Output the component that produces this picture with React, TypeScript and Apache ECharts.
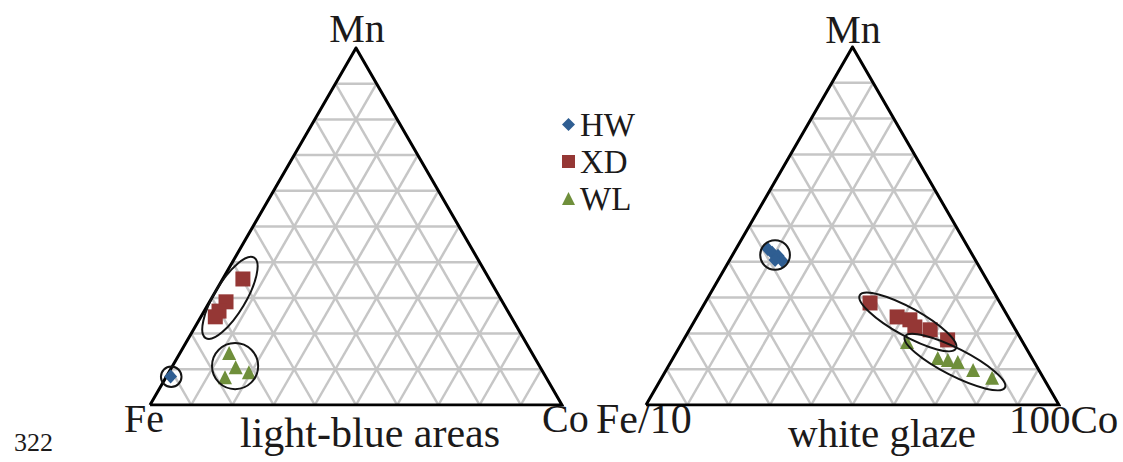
import { useEffect, useRef } from "react";
import * as echarts from "echarts";

// Compositions as [Fe, Mn, Co] in percent
const seriesNames = ["HW", "XD", "WL"];
const leftHW = [[91, 8, 1]];
const leftXD = [
  [59.8, 35.3, 4.9],
  [67.1, 28.9, 4.0],
  [70.1, 26.3, 3.6],
  [71.8, 24.7, 3.5],
];
const leftWL = [
  [73.5, 14.6, 11.9],
  [73.9, 10.6, 15.5],
  [71.4, 9.2, 19.4],
  [77.9, 7.8, 14.3],
];
const rightHW = [
  [48.7, 43.6, 7.7],
  [48.2, 42.5, 9.3],
  [47.2, 41.7, 11.1],
  [46.9, 40.3, 12.8],
  [48.5, 40.5, 11.0],
];
const rightXD = [
  [31.5, 28.5, 40.0],
  [26.9, 24.6, 48.5],
  [24.2, 23.8, 52.0],
  [24.0, 21.8, 54.2],
  [20.7, 21.0, 58.3],
  [17.9, 18.2, 64.0],
];
const rightWL = [
  [28.0, 17.6, 54.4],
  [22.8, 13.1, 64.1],
  [20.6, 12.6, 66.8],
  [18.5, 12.0, 69.5],
  [15.9, 9.8, 74.3],
  [12.4, 7.6, 80.0],
];
// group outlines: centre [Fe, Mn, Co]
const leftGroupCentres = [
  [90.9, 7.9, 1.2],
  [65.6, 30.0, 4.4],
  [73.9, 10.9, 15.2],
];
const rightGroupCentres = [
  [47.8, 41.9, 10.3],
  [25.0, 23.2, 51.8],
  [19.2, 12.0, 68.8],
];
const leftVertexLabels = ["Fe", "Mn", "Co"];
const rightVertexLabels = ["Fe/10", "Mn", "100Co"];
const leftTitle = "light-blue areas";
const rightTitle = "white glaze";
const pageNumber = "322";

const S3 = Math.sqrt(3) / 2;
const YMAX = 100 * S3;
function toXY(p: number[]): number[] {
  const [fe, mn, co] = p;
  const s = fe + mn + co;
  return [((co + mn / 2) / s) * 100, ((mn * S3) / s) * 100];
}

function gridSegments(): number[][] {
  const segs: number[][] = [];
  for (let i = 10; i < 100; i += 10) {
    const a = i;
    const b = 100 - i;
    segs.push([...toXY([b, a, 0]), ...toXY([0, a, b])]);
    segs.push([...toXY([b, 0, a]), ...toXY([0, b, a])]);
    segs.push([...toXY([a, b, 0]), ...toXY([a, 0, b])]);
  }
  return segs;
}

const COLORS: Record<string, string> = {
  HW: "#2f5e92",
  XD: "#953735",
  WL: "#6f8f3b",
};
const SYMBOLS: Record<string, string> = {
  HW: "diamond",
  XD: "rect",
  WL: "triangle",
};
const SIZES: Record<string, number[]> = {
  HW: [13, 14],
  XD: [15, 15],
  WL: [14, 14],
};

// outline geometry (radii in % of side, angle in degrees)
const leftOutlineShape = [
  [2.5, 2.5, 0],
  [11.4, 3.8, 59],
  [5.6, 5.6, 0],
];
const rightOutlineShape = [
  [3.6, 3.6, 0],
  [13.3, 3.4, -29],
  [13.6, 3.3, -27],
];

const FONT = "'Liberation Serif', 'Times New Roman', serif";
const TEXT = "#1c1a1a";

export default function App() {
  const ref = useRef<HTMLDivElement>(null);
  useEffect(() => {
    if (!ref.current) return;
    const chart = echarts.init(ref.current, undefined, { renderer: "svg" });
    const segs = gridSegments();
    const grids = [
      { left: 150, top: 48, width: 412, height: 357 },
      { left: 646, top: 47, width: 413, height: 358 },
    ];
    const panels = [
      { hw: leftHW, xd: leftXD, wl: leftWL, centres: leftGroupCentres, shapes: leftOutlineShape },
      { hw: rightHW, xd: rightXD, wl: rightWL, centres: rightGroupCentres, shapes: rightOutlineShape },
    ];
    const series: any[] = [];
    panels.forEach((p, gi) => {
      series.push({
        type: "custom",
        xAxisIndex: gi,
        yAxisIndex: gi,
        silent: true,
        clip: false,
        z: 1,
        data: segs,
        renderItem: (params: any, api: any) => {
          const p1 = api.coord([api.value(0), api.value(1)]);
          const p2 = api.coord([api.value(2), api.value(3)]);
          return {
            type: "line",
            shape: { x1: p1[0], y1: p1[1], x2: p2[0], y2: p2[1] },
            style: { stroke: "#c6c6c6", lineWidth: 2.5 },
          };
        },
      });
      series.push({
        type: "line",
        xAxisIndex: gi,
        yAxisIndex: gi,
        silent: true,
        symbol: "none",
        z: 3,
        lineStyle: { color: "#000", width: 3, join: "miter" },
        data: [toXY([100, 0, 0]), toXY([0, 100, 0]), toXY([0, 0, 100]), toXY([100, 0, 0])],
      });
      const groups: Record<string, number[][]> = { HW: p.hw, XD: p.xd, WL: p.wl };
      seriesNames.forEach((name) => {
        series.push({
          type: "scatter",
          name,
          xAxisIndex: gi,
          yAxisIndex: gi,
          symbol: SYMBOLS[name],
          symbolSize: SIZES[name],
          itemStyle: { color: COLORS[name], opacity: 1 },
          z: 5,
          data: groups[name].map(toXY),
        });
      });
      series.push({
        type: "custom",
        xAxisIndex: gi,
        yAxisIndex: gi,
        silent: true,
        clip: false,
        z: 6,
        data: p.centres.map((c, i) => [...toXY(c), ...p.shapes[i]]),
        renderItem: (params: any, api: any) => {
          const c = api.coord([api.value(0), api.value(1)]);
          const unit = api.size([1, 0])[0];
          return {
            type: "ellipse",
            x: c[0],
            y: c[1],
            rotation: (api.value(4) * Math.PI) / 180,
            shape: { cx: 0, cy: 0, rx: api.value(2) * unit, ry: api.value(3) * unit },
            style: { fill: "none", stroke: "#141414", lineWidth: 2 },
          };
        },
      });
    });

    const txt = (text: string, x: number, y: number, size: number, align: string) => ({
      type: "text",
      x,
      y,
      silent: true,
      style: {
        text,
        fontSize: size,
        fontFamily: FONT,
        fill: TEXT,
        align,
        verticalAlign: "middle",
      },
    });

    chart.setOption({
      animation: false,
      backgroundColor: "#fff",
      grid: grids,
      xAxis: grids.map((_, i) => ({
        type: "value",
        gridIndex: i,
        min: 0,
        max: 100,
        show: false,
      })),
      yAxis: grids.map((_, i) => ({
        type: "value",
        gridIndex: i,
        min: 0,
        max: YMAX,
        show: false,
      })),
      legend: {
        orient: "vertical",
        left: 557,
        top: 101,
        itemGap: 0,
        itemWidth: 13,
        itemHeight: 13,
        selectedMode: false,
        data: seriesNames.map((n) => ({ name: n, icon: SYMBOLS[n] })),
        textStyle: { fontSize: 33, fontFamily: FONT, color: TEXT, lineHeight: 37 },
      },
      graphic: [
        txt(leftVertexLabels[1], 357, 28.5, 40, "center"),
        txt(leftVertexLabels[0], 124, 418.5, 40, "left"),
        txt(leftVertexLabels[2], 542, 418.5, 40, "left"),
        txt(leftTitle, 370, 433, 42, "center"),
        txt(rightVertexLabels[1], 853, 29.5, 40, "center"),
        txt(rightVertexLabels[0], 596, 418.5, 42, "left"),
        txt(rightVertexLabels[2], 1009, 418.5, 41, "left"),
        txt(rightTitle, 882, 433, 41, "center"),
        txt(pageNumber, 14, 442, 26, "left"),
      ],
      series,
    });
    return () => chart.dispose();
  }, []);
  return (
    <div
      ref={ref}
      style={{ position: "absolute", left: 0, top: 0, width: 1123, height: 462 }}
    />
  );
}
